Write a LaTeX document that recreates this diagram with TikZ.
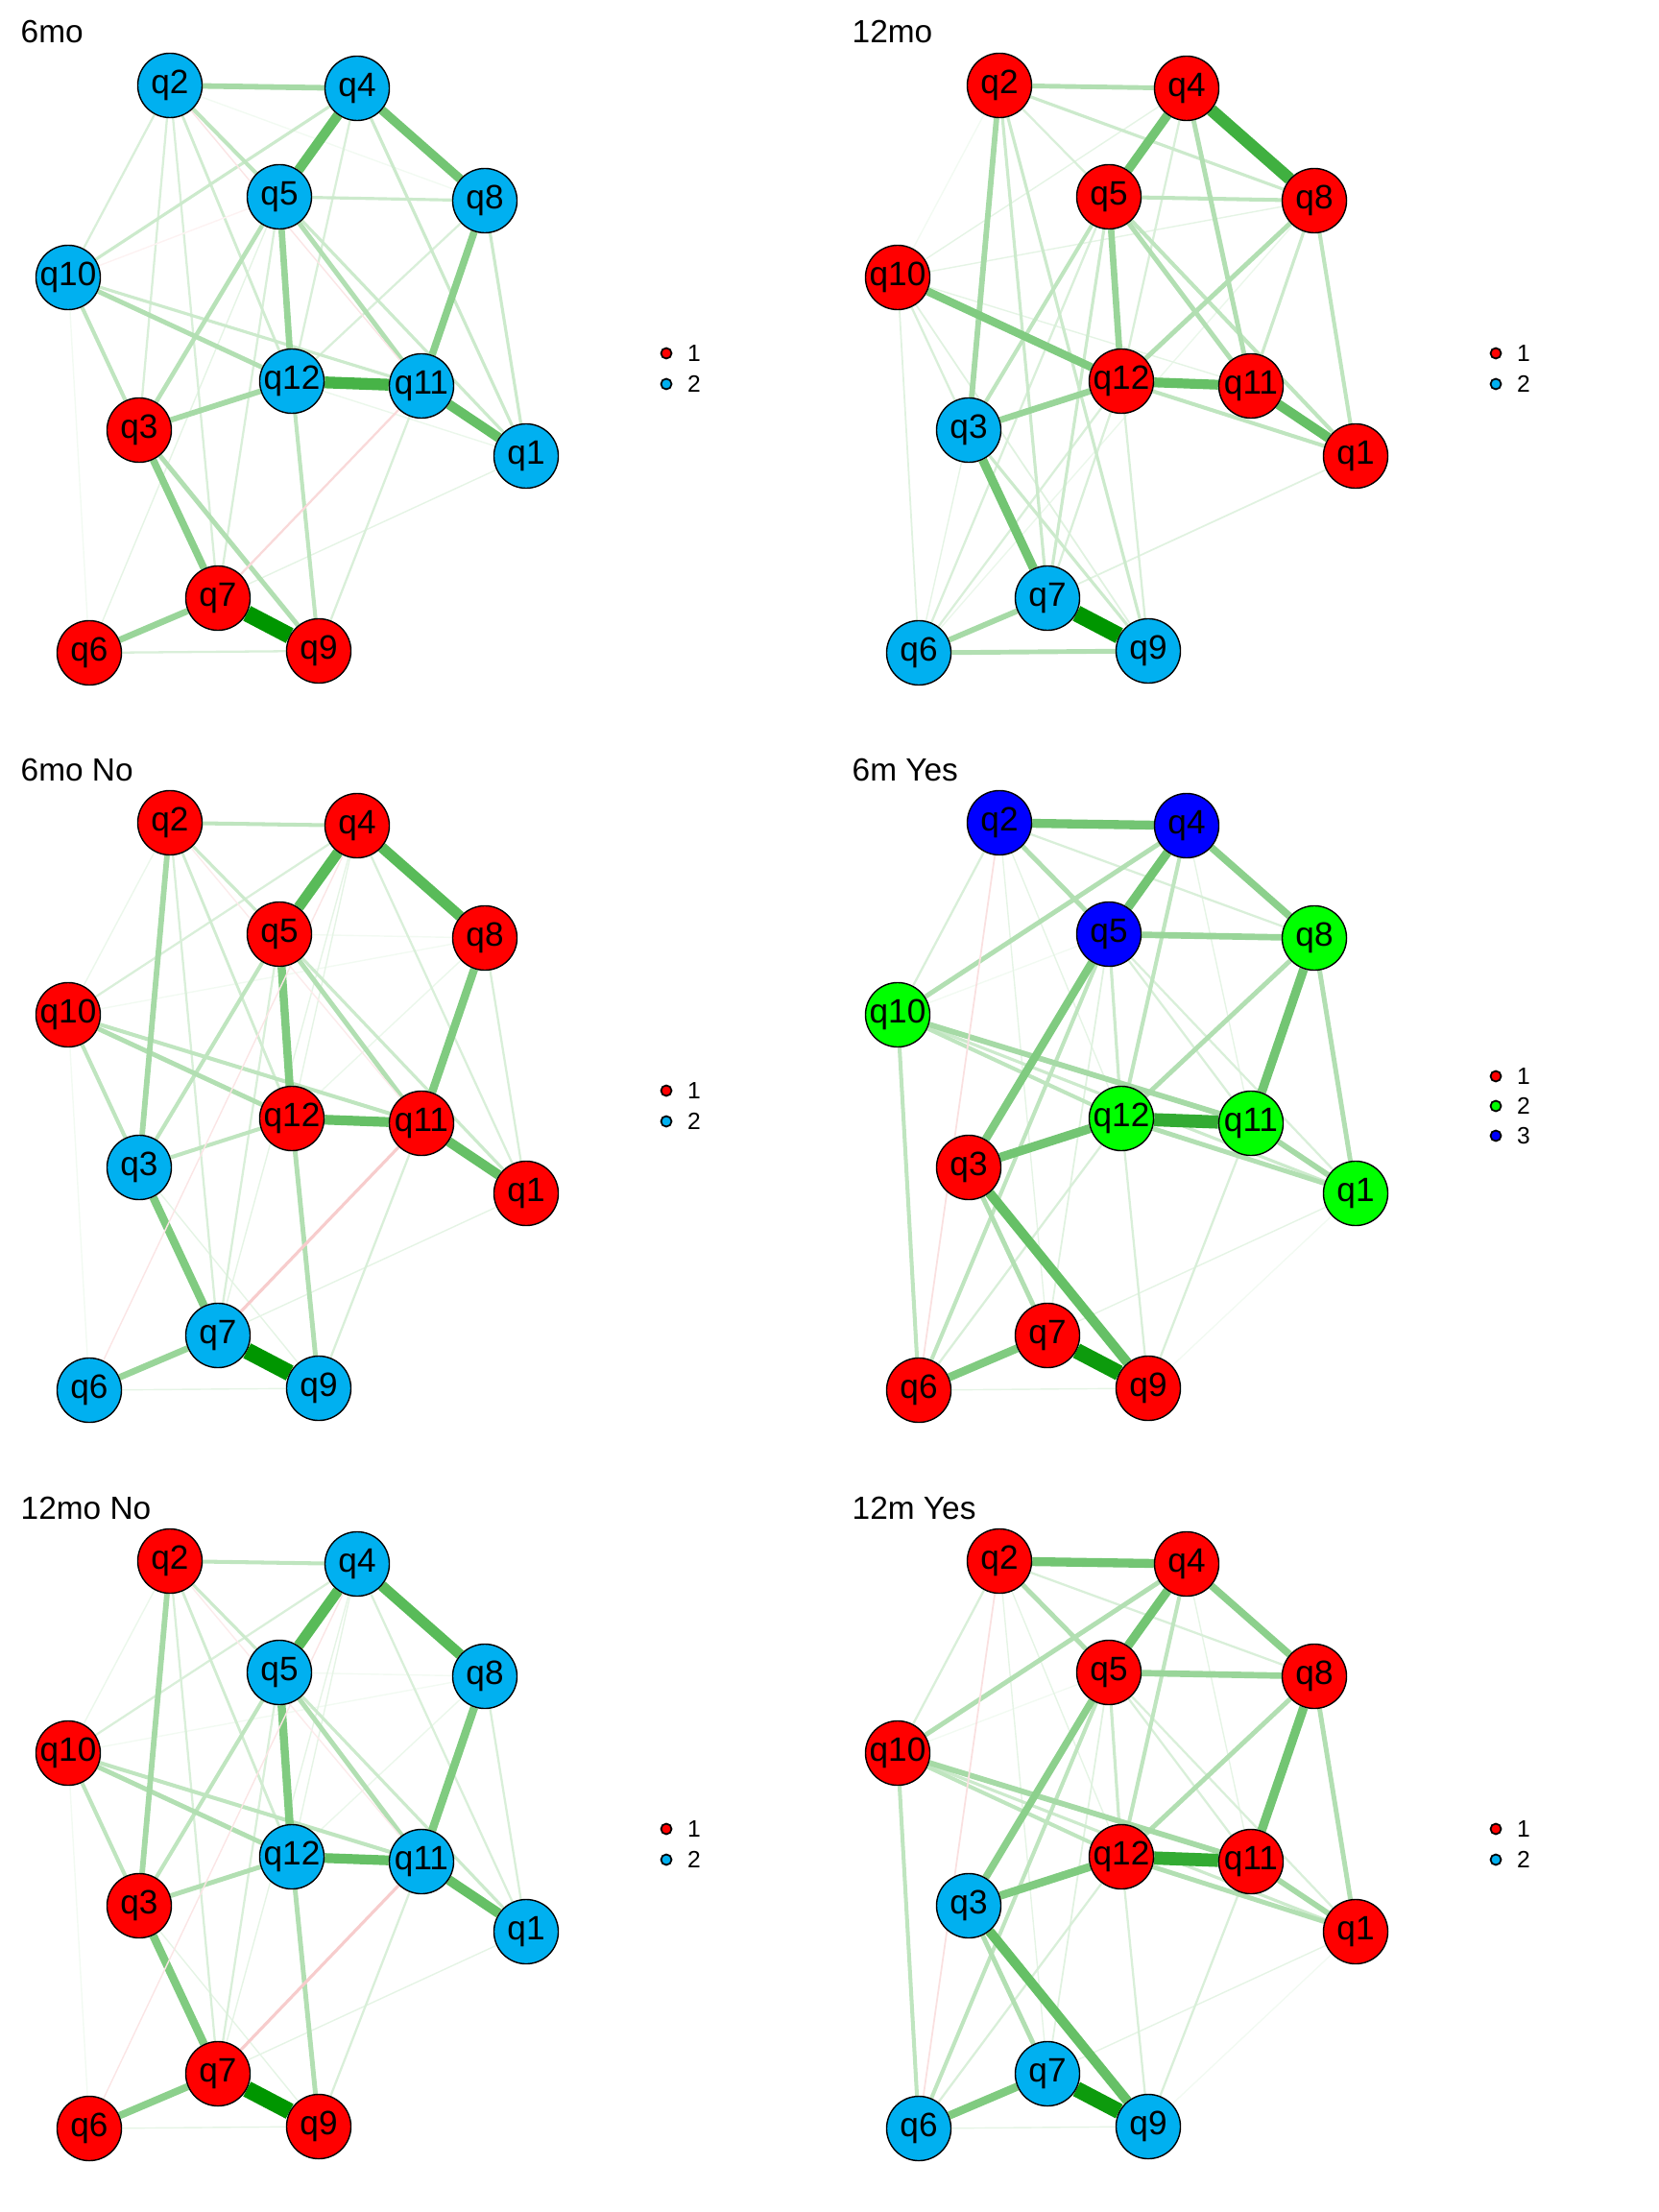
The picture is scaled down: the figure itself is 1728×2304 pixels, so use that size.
\documentclass[tikz,border=0pt]{standalone}
\usepackage{fontspec}
\setmainfont{Liberation Sans}
\usepackage{xcolor}
\usepackage{tikz}
\usetikzlibrary{positioning, backgrounds}

\definecolor{qred}{RGB}{255,0,0}
\definecolor{qcyan}{RGB}{0,176,240}
\definecolor{qlime}{RGB}{0,255,0}
\definecolor{qblue}{RGB}{0,0,255}
\definecolor{qgreen}{RGB}{0,150,0}
\definecolor{qneg}{RGB}{215,0,0}

\tikzstyle{qnode} = [circle, draw=black, line width=0.4pt, minimum size=0.67cm, inner sep=0pt, font=\fontsize{10}{12}\selectfont]
\tikzstyle{legdot} = [circle, draw=black, line width=0.5pt, minimum size=0.11cm, inner sep=0pt]
\tikzstyle{legtext} = [inner sep=0pt, font=\fontsize{7}{8}\selectfont]
\tikzstyle{paneltitle} = [anchor=base west, inner sep=0pt, font=\fontsize{9.5}{11}\selectfont]
\tikzset{posedge/.style={line width={max(0.4,0.05*#1-0.1)*1pt}, draw=qgreen!#1!white},
         negedge/.style={line width={max(0.4,0.05*#1-0.1)*1pt}, draw=qneg!#1!white}}

% node layout shared by all six networks (pixels)
\def\qpos{1/548/475, 2/177/89, 3/145/448, 4/372/92, 5/291/205, 6/93/680, 7/227/623, 8/505/209, 9/332/678, 10/71/289, 11/439/402, 12/304/397}

\begin{document}
\begin{tikzpicture}[x=0.01cm, y=-0.01cm]
    \useasboundingbox (0,0) rectangle (1728,2304);

    % 6mo
    \begin{scope}[shift={(0,0)}]
        \node[paneltitle] (m6title) at (21,45) {6mo};
        \foreach \n/\x/\y in \qpos \coordinate (m6p\n) at (\x,\y);
        \foreach \n/\c in {1/qcyan, 2/qcyan, 3/qred, 4/qcyan, 5/qcyan, 6/qred, 7/qred, 8/qcyan, 9/qred, 10/qcyan, 11/qcyan, 12/qcyan}
            \node[qnode, fill=\c] (m6q\n) at (m6p\n) {q\n};
        \begin{scope}[on background layer]
            \foreach \a/\b/\w in {10/6/5, 2/8/5, 12/1/8, 1/7/10, 5/6/10, 6/9/15, 2/10/15, 2/3/15, 2/7/15, 5/7/15, 4/12/15, 8/12/15, 11/9/15, 2/12/18, 4/10/20, 4/1/20, 5/8/20, 5/1/20, 8/1/20, 10/11/20, 10/3/25, 2/5/25, 12/9/25, 5/3/28, 5/11/30, 3/9/30, 10/12/30, 2/4/35, 3/12/35, 5/12/40, 6/7/40, 3/7/45, 8/11/45, 4/8/55, 4/5/60, 11/1/60, 12/11/72, 7/9/100}
                \draw[posedge=\w] (m6q\a) -- (m6q\b);
            \foreach \a/\b/\w in {10/5/5, 2/11/10, 11/7/15}
                \draw[negedge=\w] (m6q\a) -- (m6q\b);
        \end{scope}
        \node[legdot, fill=qred] (m6leg1) at (694,368) {};
        \node[legdot, fill=qcyan] (m6leg2) at (694,400) {};
        \node[legtext, right=0.15cm of m6leg1] {1};
        \node[legtext, right=0.15cm of m6leg2] {2};
    \end{scope}

    % 12mo
    \begin{scope}[shift={(864,0)}]
        \node[paneltitle] (m12title) at (23,45) {12mo};
        \foreach \n/\x/\y in \qpos \coordinate (m12p\n) at (\x,\y);
        \foreach \n/\c in {1/qred, 2/qred, 3/qcyan, 4/qred, 5/qred, 6/qcyan, 7/qcyan, 8/qred, 9/qcyan, 10/qred, 11/qred, 12/qred}
            \node[qnode, fill=\c] (m12q\n) at (m12p\n) {q\n};
        \begin{scope}[on background layer]
            \foreach \a/\b/\w in {2/10/5, 8/6/8, 4/10/10, 10/11/10, 10/8/10, 3/6/10, 10/6/12, 10/9/12, 1/7/12, 2/5/15, 4/12/15, 10/3/15, 5/6/15, 12/6/15, 12/9/15, 12/7/15, 2/8/20, 8/11/20, 2/7/20, 2/9/20, 5/7/20, 3/9/20, 5/8/25, 8/1/25, 12/1/25, 5/3/25, 5/1/25, 2/4/30, 6/9/30, 8/12/30, 4/11/30, 5/11/30, 2/3/35, 6/7/35, 5/12/40, 3/12/40, 10/12/50, 4/5/55, 3/7/55, 12/11/60, 11/1/60, 4/8/75, 7/9/100}
                \draw[posedge=\w] (m12q\a) -- (m12q\b);
        \end{scope}
        \node[legdot, fill=qred] (m12leg1) at (694,368) {};
        \node[legdot, fill=qcyan] (m12leg2) at (694,400) {};
        \node[legtext, right=0.15cm of m12leg1] {1};
        \node[legtext, right=0.15cm of m12leg2] {2};
    \end{scope}

    % 6mo No
    \begin{scope}[shift={(0,768)}]
        \node[paneltitle] (m6notitle) at (21,45) {6mo No};
        \foreach \n/\x/\y in \qpos \coordinate (m6nop\n) at (\x,\y);
        \foreach \n/\c in {1/qred, 2/qred, 3/qcyan, 4/qred, 5/qred, 6/qcyan, 7/qcyan, 8/qred, 9/qcyan, 10/qred, 11/qred, 12/qred}
            \node[qnode, fill=\c] (m6noq\n) at (m6nop\n) {q\n};
        \begin{scope}[on background layer]
            \foreach \a/\b/\w in {10/6/5, 10/8/5, 5/8/5, 2/10/8, 8/12/8, 4/12/10, 4/7/10, 3/9/10, 1/7/10, 6/9/10, 2/7/15, 4/10/15, 4/1/15, 5/7/15, 8/1/15, 11/9/15, 2/12/18, 2/5/20, 5/1/20, 10/11/25, 3/12/25, 10/3/25, 2/4/25, 5/3/25, 12/9/30, 10/12/30, 5/11/30, 2/3/35, 6/7/40, 8/11/50, 5/12/50, 3/7/50, 12/11/60, 11/1/60, 4/5/65, 4/8/65, 7/9/100}
                \draw[posedge=\w] (m6noq\a) -- (m6noq\b);
            \foreach \a/\b/\w in {2/11/8, 4/6/10, 11/7/20}
                \draw[negedge=\w] (m6noq\a) -- (m6noq\b);
        \end{scope}
        \node[legdot, fill=qred] (m6noleg1) at (694,368) {};
        \node[legdot, fill=qcyan] (m6noleg2) at (694,400) {};
        \node[legtext, right=0.15cm of m6noleg1] {1};
        \node[legtext, right=0.15cm of m6noleg2] {2};
    \end{scope}

    % 6m Yes
    \begin{scope}[shift={(864,768)}]
        \node[paneltitle] (m6yestitle) at (23,45) {6m Yes};
        \foreach \n/\x/\y in \qpos \coordinate (m6yesp\n) at (\x,\y);
        \foreach \n/\c in {1/qlime, 2/qblue, 3/qred, 4/qblue, 5/qblue, 6/qred, 7/qred, 8/qlime, 9/qred, 10/qlime, 11/qlime, 12/qlime}
            \node[qnode, fill=\c] (m6yesq\n) at (m6yesp\n) {q\n};
        \begin{scope}[on background layer]
            \foreach \a/\b/\w in {10/5/5, 1/9/5, 2/7/10, 2/12/10, 1/7/10, 6/9/10, 4/11/10, 5/7/12, 2/8/15, 2/10/15, 5/11/15, 5/1/15, 12/6/15, 12/9/15, 11/9/15, 10/1/20, 10/6/25, 5/12/20, 10/12/25, 4/12/25, 5/6/25, 12/1/30, 8/1/30, 8/12/30, 4/10/30, 2/5/30, 3/7/30, 10/11/35, 11/1/35, 5/8/40, 4/8/45, 5/3/50, 6/7/50, 2/4/55, 4/5/55, 3/12/55, 8/11/55, 3/9/60, 12/11/80, 7/9/95}
                \draw[posedge=\w] (m6yesq\a) -- (m6yesq\b);
            \foreach \a/\b/\w in {2/6/12}
                \draw[negedge=\w] (m6yesq\a) -- (m6yesq\b);
        \end{scope}
        \node[legdot, fill=qred] (m6yesleg1) at (694,353) {};
        \node[legdot, fill=qlime] (m6yesleg2) at (694,384) {};
        \node[legdot, fill=qblue] (m6yesleg3) at (694,415) {};
        \node[legtext, right=0.15cm of m6yesleg1] {1};
        \node[legtext, right=0.15cm of m6yesleg2] {2};
        \node[legtext, right=0.15cm of m6yesleg3] {3};
    \end{scope}

    % 12mo No
    \begin{scope}[shift={(0,1537)}]
        \node[paneltitle] (m12notitle) at (21,45) {12mo No};
        \foreach \n/\x/\y in \qpos \coordinate (m12nop\n) at (\x,\y);
        \foreach \n/\c in {1/qcyan, 2/qred, 3/qred, 4/qcyan, 5/qcyan, 6/qred, 7/qred, 8/qcyan, 9/qred, 10/qred, 11/qcyan, 12/qcyan}
            \node[qnode, fill=\c] (m12noq\n) at (m12nop\n) {q\n};
        \begin{scope}[on background layer]
            \foreach \a/\b/\w in {10/6/5, 10/8/5, 5/8/5, 2/10/8, 8/12/8, 4/12/10, 4/7/10, 3/9/10, 1/7/10, 6/9/10, 2/7/15, 4/10/15, 4/1/15, 5/7/15, 8/1/15, 11/9/15, 2/12/18, 2/5/20, 5/1/20, 10/11/25, 10/3/25, 2/4/25, 5/3/25, 12/9/30, 10/12/30, 5/11/30, 3/12/30, 2/3/35, 6/7/45, 8/11/50, 5/12/50, 3/7/50, 12/11/60, 11/1/60, 4/5/65, 4/8/65, 7/9/100}
                \draw[posedge=\w] (m12noq\a) -- (m12noq\b);
            \foreach \a/\b/\w in {2/11/8, 4/6/10, 11/7/20}
                \draw[negedge=\w] (m12noq\a) -- (m12noq\b);
        \end{scope}
        \node[legdot, fill=qred] (m12noleg1) at (694,368) {};
        \node[legdot, fill=qcyan] (m12noleg2) at (694,400) {};
        \node[legtext, right=0.15cm of m12noleg1] {1};
        \node[legtext, right=0.15cm of m12noleg2] {2};
    \end{scope}

    % 12m Yes
    \begin{scope}[shift={(864,1537)}]
        \node[paneltitle] (m12yestitle) at (23,45) {12m Yes};
        \foreach \n/\x/\y in \qpos \coordinate (m12yesp\n) at (\x,\y);
        \foreach \n/\c in {1/qred, 2/qred, 3/qcyan, 4/qred, 5/qred, 6/qcyan, 7/qcyan, 8/qred, 9/qcyan, 10/qred, 11/qred, 12/qred}
            \node[qnode, fill=\c] (m12yesq\n) at (m12yesp\n) {q\n};
        \begin{scope}[on background layer]
            \foreach \a/\b/\w in {10/5/5, 1/9/5, 2/7/10, 2/12/10, 1/7/10, 6/9/10, 4/11/10, 5/7/12, 2/8/15, 2/10/15, 5/11/15, 5/1/15, 12/6/15, 12/9/15, 11/9/15, 10/1/20, 10/6/25, 5/12/20, 10/12/25, 4/12/25, 5/6/25, 12/1/30, 8/1/30, 8/12/30, 4/10/30, 2/5/30, 3/7/30, 10/11/35, 11/1/35, 5/8/40, 4/8/45, 5/3/45, 6/7/50, 2/4/55, 4/5/55, 3/12/50, 8/11/55, 3/9/60, 12/11/80, 7/9/95}
                \draw[posedge=\w] (m12yesq\a) -- (m12yesq\b);
            \foreach \a/\b/\w in {2/6/12}
                \draw[negedge=\w] (m12yesq\a) -- (m12yesq\b);
        \end{scope}
        \node[legdot, fill=qred] (m12yesleg1) at (694,368) {};
        \node[legdot, fill=qcyan] (m12yesleg2) at (694,400) {};
        \node[legtext, right=0.15cm of m12yesleg1] {1};
        \node[legtext, right=0.15cm of m12yesleg2] {2};
    \end{scope}
\end{tikzpicture}
\end{document}
